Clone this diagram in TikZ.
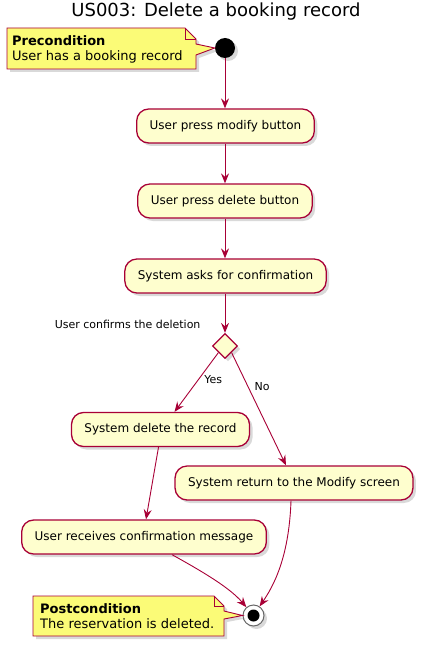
\documentclass[tikz,border=0pt]{standalone}
\usepackage{fontspec}
\setmainfont{DejaVu Sans}
\usepackage{tikz}
\usetikzlibrary{arrows.meta,shapes.geometric,shadows}
\definecolor{umlred}{HTML}{A80036}
\definecolor{umlact}{HTML}{FEFECE}
\definecolor{umlnote}{HTML}{FBFB77}
\begin{document}
\begin{tikzpicture}[x=1pt,y=-1pt,
                shade/.style={drop shadow={opacity=0.3,shadow xshift=3pt,shadow yshift=-3pt}},
                act/.style={draw=umlred,line width=1.3pt,fill=umlact,rounded corners=12pt,minimum height=34pt,inner xsep=13pt,font=\fontsize{12}{14}\selectfont,shade},
                flow/.style={draw=umlred,line width=0.9pt,-{Stealth[length=10pt,width=8pt,inset=3.5pt]}},
                lbl/.style={font=\fontsize{11}{13}\selectfont},
                notetext/.style={font=\fontsize{13}{15}\selectfont,align=left,anchor=west,inner sep=0pt},
                noteshape/.style={draw=umlred,line width=0.9pt,fill=umlnote,shade}]
                \useasboundingbox (0,0) rectangle (424,647);
                \node[font=\fontsize{18}{21}\selectfont] (title) at (216,12) {US003: Delete a booking record};
                \node[circle,fill=black,minimum size=20pt,inner sep=0pt,shade] (start) at (225,48) {};
                \node[act] (modify) at (225.5,126) {User press modify button};
                \node[act] (delete) at (225,201) {User press delete button};
                \node[act] (asks) at (225.5,276) {System asks for confirmation};
                \node[diamond,draw=umlred,line width=1.3pt,fill=umlact,minimum width=25pt,minimum height=25pt,inner sep=0pt,shade] (dec) at (225,346) {};
                \node[lbl,anchor=east] (declbl) at (204,324) {User confirms the deletion};
                \node[act] (delrec) at (160.5,429.5) {System delete the record};
                \node[act] (ret) at (294,483) {System return to the Modify screen};
                \node[act] (recv) at (144,537) {User receives confirmation message};
                \node[circle,draw=black!60,line width=1pt,fill=white,minimum size=21pt,inner sep=0pt,shade] (stop) at (253.5,615.5) {};
                \node[circle,fill=black,minimum size=12pt,inner sep=0pt] (stopdot) at (stop) {};
                \draw[noteshape] (7,28) -- (185,28) -- (196,39) -- (196,44) -- (start.west) -- (196,55) -- (196,69) -- (7,69) -- cycle;
                \draw[draw=umlred,line width=0.9pt] (185,28) -- (185,39) -- (196,39);
                \node[notetext] (pre) at (12,49) {\textbf{Precondition}\\User has a booking record};
                \draw[noteshape] (33,596) -- (214,596) -- (224,606) -- (224,611) -- (stop.west) -- (224,619) -- (224,636) -- (33,636) -- cycle;
                \draw[draw=umlred,line width=0.9pt] (214,596) -- (214,606) -- (224,606);
                \node[notetext] (post) at (40,616) {\textbf{Postcondition}\\The reservation is deleted.};
                \draw[flow] (start) -- (modify.north -| start);
                \draw[flow] (modify.south -| start) -- (delete.north -| start);
                \draw[flow] (delete.south -| start) -- (asks.north -| start);
                \draw[flow] (asks.south -| dec) -- (dec);
                \draw[flow] (dec.south west) -- node[lbl,right=2pt,pos=0.45] {Yes} ([xshift=14pt]delrec.north);
                \draw[flow] (dec.south east) -- node[lbl,right=3pt,pos=0.3] {No} ([xshift=-8pt]ret.north);
                \draw[flow] ([xshift=-2pt]delrec.south) -- ([xshift=2pt]recv.north);
                \draw[flow] ([xshift=28pt]recv.south) .. controls (205,573) and (230,588) .. (stop);
                \draw[flow] ([xshift=-3pt]ret.south) .. controls (289,560) and (272,588) .. (stop);
            \end{tikzpicture}
\end{document}
